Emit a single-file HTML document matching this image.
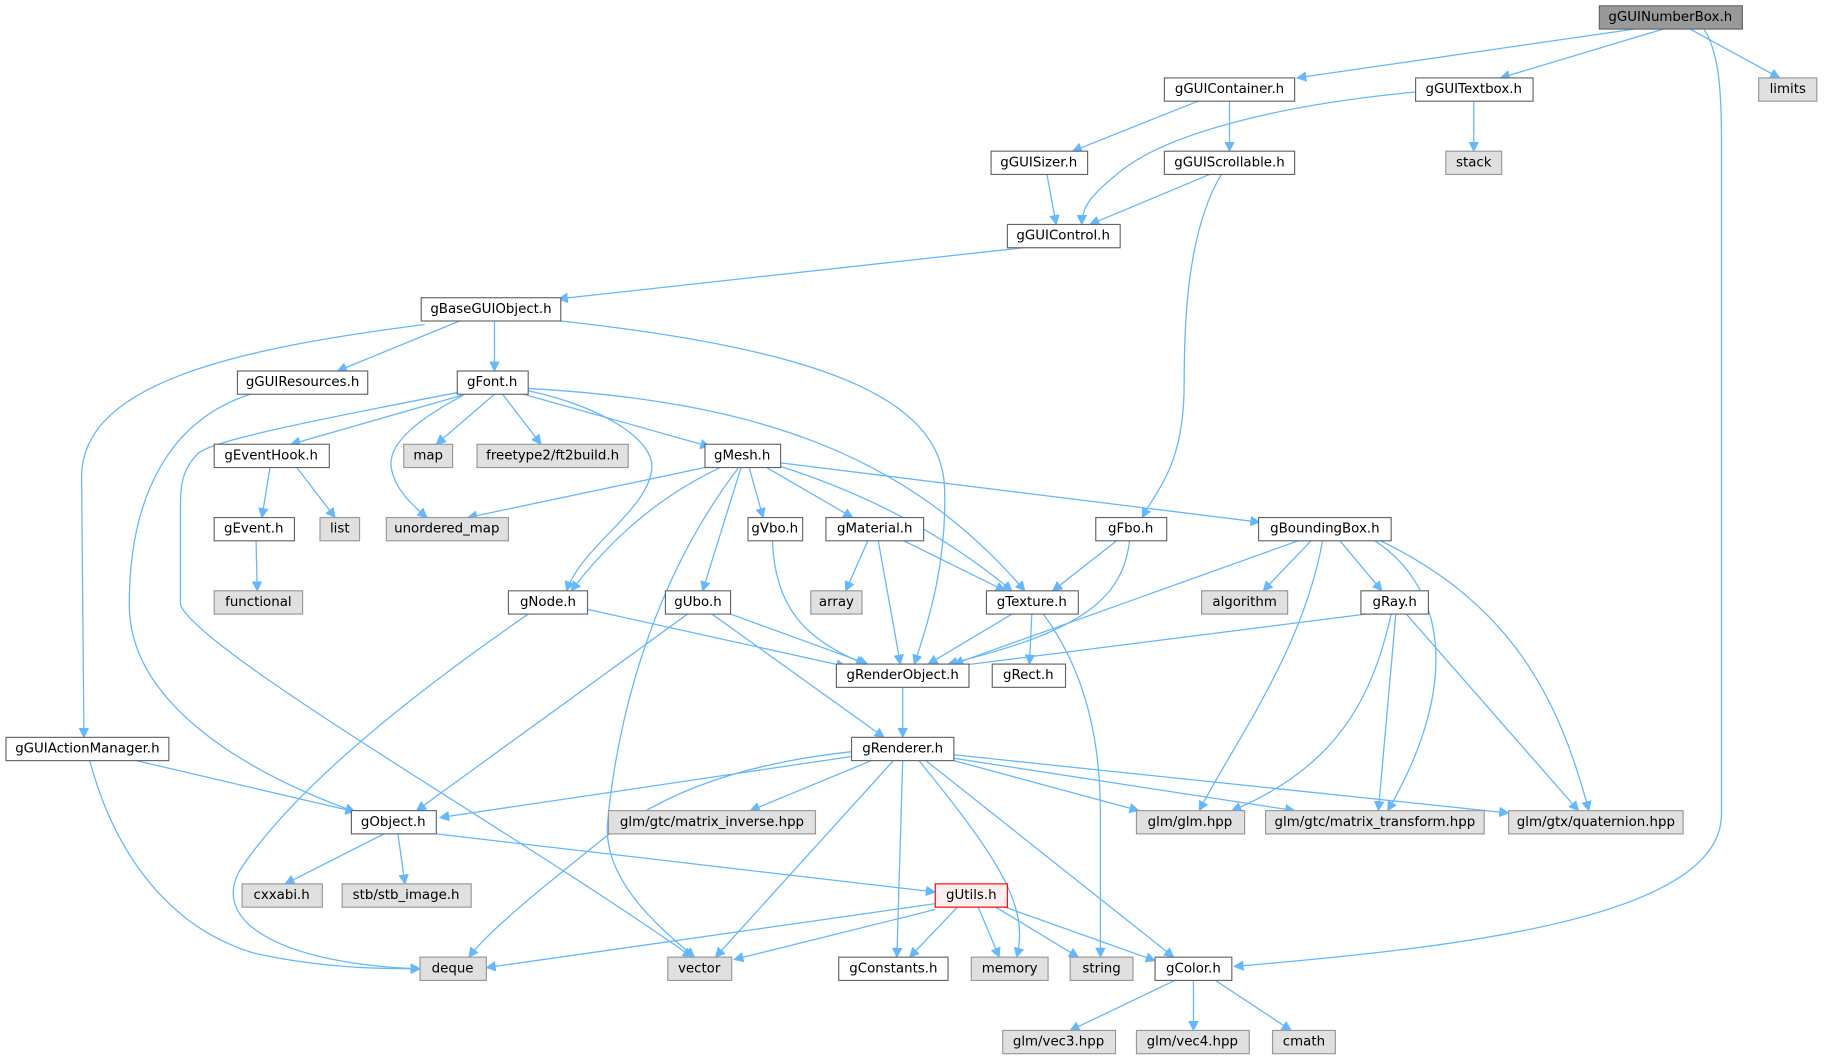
<!DOCTYPE html>
<html><head><meta charset="utf-8"><style>
html,body{margin:0;padding:0;background:#fff;}
svg{display:block}
text{font-family:"DejaVu Sans","Liberation Sans",sans-serif;font-size:11.5px;fill:#000;text-anchor:middle;dominant-baseline:central}
.w{fill:#fff;stroke:#666;stroke-width:1}
.g{fill:#e0e0e0;stroke:#999;stroke-width:1}
.e path{fill:none;stroke:#63b8ff;stroke-width:1.1;marker-end:url(#a)}
</style></head><body>
<svg width="1824" height="1063" viewBox="0 0 1568 914" xmlns="http://www.w3.org/2000/svg">
<defs><marker id="a" viewBox="0 0 10 10" refX="9" refY="5" markerWidth="9" markerHeight="9" orient="auto" markerUnits="userSpaceOnUse"><path d="M0,0 L10,5 L0,10 z" fill="#63b8ff"/></marker></defs>
<g class="e">
<path d="M1405,25 L1115,67"/>
<path d="M1430,25 L1290,67"/>
<path d="M1453,25 L1530,67"/>
<path d="M1465,25 C1478,45 1480,80 1480,120 L1480,700 C1480,790 1250,815 1061,831"/>
<path d="M1030,87 L922,130"/>
<path d="M1057,87 L1057,130"/>
<path d="M1218,79 C1100,90 1000,115 960,150 C935,170 930,180 930,193"/>
<path d="M1267,87 L1267,130"/>
<path d="M900,150 L908,193"/>
<path d="M1040,150 L937,193"/>
<path d="M1050,150 C1020,200 1018,280 1018,330 C1018,400 995,420 982,445"/>
<path d="M880,213 L480,257"/>
<path d="M395,276 L290,319"/>
<path d="M425,276 L425,319"/>
<path d="M365,279 C200,300 70,330 70,410 L72,634"/>
<path d="M482,276 C700,300 810,340 812,420 C814,480 800,530 786,571"/>
<path d="M215,339 C150,360 111,420 111,520 C111,600 200,660 305,698"/>
<path d="M400,339 L250,382"/>
<path d="M425,339 L375,382"/>
<path d="M432,339 L465,382"/>
<path d="M450,339 L610,384"/>
<path d="M398,340 C360,360 335,380 336,400 C338,420 355,435 367,445"/>
<path d="M396,337 C250,365 180,380 170,390 C155,405 155,420 155,440 L155,520 C170,560 450,720 595,823"/>
<path d="M454,336 C520,350 565,380 560,405 C555,440 500,470 487,508"/>
<path d="M454,334 C650,345 780,390 881,508"/>
<path d="M232,402 L225,445"/>
<path d="M255,402 L288,445"/>
<path d="M220,465 L221,508"/>
<path d="M606,402 L402,445"/>
<path d="M619,402 C560,430 520,470 491,508"/>
<path d="M635,402 C560,500 530,620 522,710 C520,760 570,800 597,823"/>
<path d="M637,402 L604,508"/>
<path d="M644,402 L656,445"/>
<path d="M659,402 L733,445"/>
<path d="M671,401 C730,420 800,450 870,508"/>
<path d="M671,398 L1083,449"/>
<path d="M664,465 C666,520 690,550 744,571"/>
<path d="M746,465 L727,508"/>
<path d="M755,465 L774,571"/>
<path d="M777,465 L864,508"/>
<path d="M960,465 L905,508"/>
<path d="M971,465 C965,520 920,545 815,571"/>
<path d="M1116,465 L820,571"/>
<path d="M1127,465 L1086,508"/>
<path d="M1152,465 L1188,508"/>
<path d="M1137,465 C1120,560 1060,640 1031,697"/>
<path d="M1182,465 C1250,510 1250,600 1193,697"/>
<path d="M1187,465 C1300,520 1340,600 1366,697"/>
<path d="M1174,528 L820,573"/>
<path d="M1196,528 C1180,600 1149,660 1059,697"/>
<path d="M1200,528 L1185,697"/>
<path d="M1209,528 L1357,697"/>
<path d="M870,528 L798,571"/>
<path d="M887,528 L885,571"/>
<path d="M897,528 C935,580 946,640 946,700 L946,823"/>
<path d="M505,524 L727,573"/>
<path d="M454,528 C350,600 250,680 205,750 C180,800 260,830 361,833"/>
<path d="M77,654 C100,740 150,800 220,820 C280,833 330,833 361,833"/>
<path d="M117,654 L305,698"/>
<path d="M628,528 L746,571"/>
<path d="M612,528 L760,634"/>
<path d="M591,528 L358,697"/>
<path d="M776,591 L776,634"/>
<path d="M735,650 L378,703"/>
<path d="M749,654 L645,697"/>
<path d="M820,654 L979,697"/>
<path d="M820,652 L1113,697"/>
<path d="M820,649 L1297,699"/>
<path d="M735,646 C620,658 560,690 520,720 C470,760 420,800 403,823"/>
<path d="M768,654 L615,823"/>
<path d="M776,654 L771,823"/>
<path d="M790,654 C860,740 885,780 874,823"/>
<path d="M796,654 L1009,823"/>
<path d="M375,717 L804,767"/>
<path d="M330,717 L245,760"/>
<path d="M342,717 L348,760"/>
<path d="M804,777 L418,832"/>
<path d="M804,782 L631,825"/>
<path d="M823,780 L782,823"/>
<path d="M841,780 L859,823"/>
<path d="M856,780 L927,823"/>
<path d="M864,780 L993,826"/>
<path d="M1010,843 L920,886"/>
<path d="M1026,843 L1026,886"/>
<path d="M1045,843 L1110,886"/>
</g>
<g>
<rect x="1375" y="5" width="123" height="20" fill="#999" stroke="#666"/><text x="1436" y="15">gGUINumberBox.h</text>
<rect class="w" x="1001" y="67" width="112" height="20"/><text x="1057" y="77">gGUIContainer.h</text>
<rect class="w" x="1217" y="67" width="101" height="20"/><text x="1267" y="77">gGUITextbox.h</text>
<rect class="g" x="1512" y="67" width="50" height="20"/><text x="1537" y="77">limits</text>
<rect class="w" x="852" y="130" width="83" height="20"/><text x="893" y="140">gGUISizer.h</text>
<rect class="w" x="1001" y="130" width="112" height="20"/><text x="1057" y="140">gGUIScrollable.h</text>
<rect class="g" x="1243" y="130" width="48" height="20"/><text x="1267" y="140">stack</text>
<rect class="w" x="866" y="193" width="97" height="20"/><text x="914" y="203">gGUIControl.h</text>
<rect class="w" x="362" y="256" width="120" height="20"/><text x="422" y="266">gBaseGUIObject.h</text>
<rect class="w" x="204" y="319" width="112" height="20"/><text x="260" y="329">gGUIResources.h</text>
<rect class="w" x="393" y="319" width="61" height="20"/><text x="423" y="329">gFont.h</text>
<rect class="w" x="184" y="382" width="99" height="20"/><text x="233" y="392">gEventHook.h</text>
<rect class="g" x="347" y="382" width="42" height="20"/><text x="368" y="392">map</text>
<rect class="g" x="410" y="382" width="130" height="20"/><text x="475" y="392">freetype2/ft2build.h</text>
<rect class="w" x="606" y="382" width="65" height="20"/><text x="638" y="392">gMesh.h</text>
<rect class="w" x="184" y="445" width="69" height="20"/><text x="218" y="455">gEvent.h</text>
<rect class="g" x="275" y="445" width="34" height="20"/><text x="292" y="455">list</text>
<rect class="g" x="332" y="445" width="105" height="20"/><text x="384" y="455">unordered_map</text>
<rect class="w" x="643" y="445" width="47" height="20"/><text x="666" y="455">gVbo.h</text>
<rect class="w" x="710" y="445" width="84" height="20"/><text x="752" y="455">gMaterial.h</text>
<rect class="w" x="942" y="445" width="61" height="20"/><text x="972" y="455">gFbo.h</text>
<rect class="w" x="1082" y="445" width="114" height="20"/><text x="1139" y="455">gBoundingBox.h</text>
<rect class="g" x="184" y="508" width="76" height="20"/><text x="222" y="518">functional</text>
<rect class="w" x="437" y="508" width="68" height="20"/><text x="471" y="518">gNode.h</text>
<rect class="w" x="572" y="508" width="56" height="20"/><text x="600" y="518">gUbo.h</text>
<rect class="g" x="697" y="508" width="44" height="20"/><text x="719" y="518">array</text>
<rect class="w" x="848" y="508" width="79" height="20"/><text x="887" y="518">gTexture.h</text>
<rect class="g" x="1033" y="508" width="74" height="20"/><text x="1070" y="518">algorithm</text>
<rect class="w" x="1170" y="508" width="58" height="20"/><text x="1199" y="518">gRay.h</text>
<rect class="w" x="719" y="571" width="114" height="20"/><text x="776" y="581">gRenderObject.h</text>
<rect class="w" x="853" y="571" width="63" height="20"/><text x="884" y="581">gRect.h</text>
<rect class="w" x="5" y="634" width="140" height="20"/><text x="75" y="644">gGUIActionManager.h</text>
<rect class="w" x="732" y="634" width="88" height="20"/><text x="776" y="644">gRenderer.h</text>
<rect class="w" x="302" y="697" width="73" height="20"/><text x="338" y="707">gObject.h</text>
<rect class="g" x="523" y="697" width="178" height="20"/><text x="612" y="707">glm/gtc/matrix_inverse.hpp</text>
<rect class="g" x="977" y="697" width="93" height="20"/><text x="1023" y="707">glm/glm.hpp</text>
<rect class="g" x="1088" y="697" width="188" height="20"/><text x="1182" y="707">glm/gtc/matrix_transform.hpp</text>
<rect class="g" x="1297" y="697" width="150" height="20"/><text x="1372" y="707">glm/gtx/quaternion.hpp</text>
<rect class="g" x="208" y="760" width="69" height="20"/><text x="242" y="770">cxxabi.h</text>
<rect class="g" x="294" y="760" width="111" height="20"/><text x="349" y="770">stb/stb_image.h</text>
<rect x="804" y="760" width="62" height="20" fill="#fff0f0" stroke="#f00"/><text x="835" y="770">gUtils.h</text>
<rect class="g" x="361" y="823" width="57" height="20"/><text x="389" y="833">deque</text>
<rect class="g" x="574" y="823" width="55" height="20"/><text x="601" y="833">vector</text>
<rect class="w" x="721" y="823" width="94" height="20"/><text x="768" y="833">gConstants.h</text>
<rect class="g" x="835" y="823" width="66" height="20"/><text x="868" y="833">memory</text>
<rect class="g" x="920" y="823" width="54" height="20"/><text x="947" y="833">string</text>
<rect class="w" x="993" y="823" width="66" height="20"/><text x="1026" y="833">gColor.h</text>
<rect class="g" x="862" y="886" width="97" height="20"/><text x="910" y="896">glm/vec3.hpp</text>
<rect class="g" x="977" y="886" width="97" height="20"/><text x="1025" y="896">glm/vec4.hpp</text>
<rect class="g" x="1094" y="886" width="54" height="20"/><text x="1121" y="896">cmath</text>
</g>
</svg>
</body></html>
